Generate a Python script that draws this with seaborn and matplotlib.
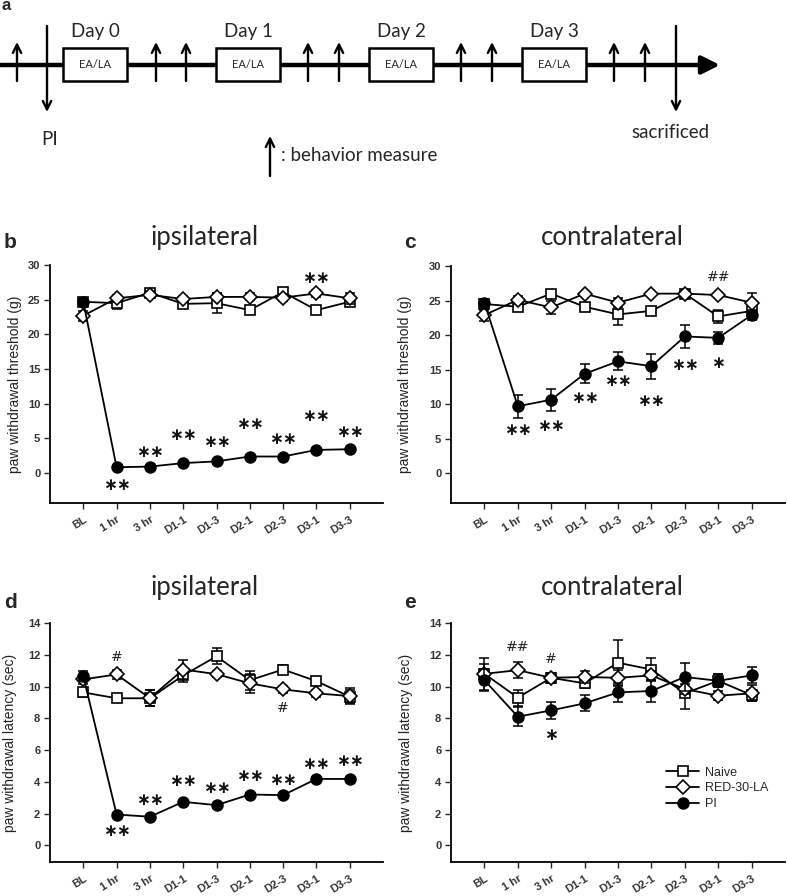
import numpy as np
import pandas as pd
import matplotlib
matplotlib.use("Agg")
import matplotlib.pyplot as plt
import seaborn as sns
from matplotlib.patches import Rectangle

sns.set_theme(style="ticks")
plt.rcParams['font.family'] = ['Liberation Sans', 'DejaVu Sans']

# ---------------- data ----------------
timepoints = ['BL', '1 hr', '3 hr', 'D1-1', 'D1-3', 'D2-1', 'D2-3', 'D3-1', 'D3-3']
groups = ['Naive', 'RED-30-LA', 'PI']

# b: ipsilateral threshold (g)
b_naive = [24.7, 24.5, 26.0, 24.4, 24.5, 23.5, 26.1, 23.5, 24.7]
b_red = [22.7, 25.2, 25.7, 25.1, 25.4, 25.4, 25.3, 25.9, 25.2]
b_pi = [24.7, 0.85, 0.95, 1.45, 1.7, 2.4, 2.4, 3.35, 3.45]
b_naive_err = [0.5, 0.8, 0.5, 0.6, 1.4, 0.6, 0.5, 0.5, 0.5]
b_red_err = [0.7, 0.5, 0.5, 0.5, 0.5, 0.5, 0.5, 0.5, 0.8]
b_pi_err = [0.5, 0.2, 0.2, 0.2, 0.4, 0.2, 0.2, 0.2, 0.2]

# c: contralateral threshold (g)
c_naive = [24.5, 24.1, 26.0, 24.1, 23.0, 23.5, 26.0, 22.7, 23.5]
c_red = [22.9, 25.1, 24.0, 26.0, 24.7, 26.0, 26.0, 25.8, 24.7]
c_pi = [24.7, 9.7, 10.65, 14.4, 16.2, 15.5, 19.8, 19.6, 22.9]
c_naive_err = [0.5, 0.5, 0.4, 0.5, 1.5, 0.4, 0.3, 0.9, 0.6]
c_red_err = [0.8, 0.6, 1.0, 0.3, 0.7, 0.3, 0.3, 0.3, 1.4]
c_pi_err = [0.5, 1.7, 1.6, 1.4, 1.3, 1.8, 1.7, 0.9, 0.7]

# d: ipsilateral latency (sec)
d_naive = [9.63, 9.26, 9.26, 10.7, 11.9, 10.4, 11.07, 10.34, 9.36]
d_red = [10.45, 10.76, 9.26, 11.07, 10.78, 10.2, 9.82, 9.57, 9.4]
d_pi = [10.65, 1.94, 1.80, 2.74, 2.53, 3.2, 3.16, 4.18, 4.18]
d_naive_err = [0.3, 0.2, 0.5, 0.4, 0.5, 0.6, 0.3, 0.2, 0.4]
d_red_err = [0.3, 0.3, 0.5, 0.6, 0.2, 0.6, 0.2, 0.2, 0.5]
d_pi_err = [0.3, 0.1, 0.1, 0.1, 0.1, 0.1, 0.15, 0.1, 0.1]

# e: contralateral latency (sec)
e_naive = [10.8, 9.3, 10.55, 10.2, 11.5, 11.07, 9.57, 10.36, 9.46]
e_red = [10.8, 11.03, 10.55, 10.6, 10.55, 10.7, 9.84, 9.42, 9.57]
e_pi = [10.4, 8.1, 8.5, 8.94, 9.63, 9.72, 10.6, 10.36, 10.7]
e_naive_err = [1.0, 0.5, 0.3, 0.3, 1.4, 0.7, 1.0, 0.4, 0.35]
e_red_err = [0.6, 0.5, 0.3, 0.4, 0.5, 0.3, 0.3, 0.3, 0.5]
e_pi_err = [0.7, 0.6, 0.55, 0.5, 0.6, 0.7, 0.9, 0.4, 0.5]

# significance annotations: (time index, y value, text)
b_annot = [(1, -1.7, '∗∗'), (2, 3.0, '∗∗'), (3, 5.5, '∗∗'), (4, 4.5, '∗∗'), (5, 7.1, '∗∗'),
           (6, 4.9, '∗∗'), (7, 8.3, '∗∗'), (8, 6.0, '∗∗'), (7, 28.1, '∗∗')]
c_annot = [(1, 6.3, '∗∗'), (2, 6.9, '∗∗'), (3, 10.9, '∗∗'), (4, 13.3, '∗∗'), (5, 10.4, '∗∗'),
           (6, 15.6, '∗∗'), (7, 15.9, '∗'), (7, 28.4, '##')]
d_annot = [(1, 0.9, '∗∗'), (2, 2.84, '∗∗'), (3, 4.07, '∗∗'), (4, 3.6, '∗∗'), (5, 4.35, '∗∗'),
           (6, 4.1, '∗∗'), (7, 5.14, '∗∗'), (8, 5.29, '∗∗'), (1, 11.87, '#'), (6, 8.63, '#')]
e_annot = [(1, 12.5, '##'), (2, 11.76, '#'), (2, 6.96, '∗')]

# schematic (panel a)
measure_x = [17, 156, 186, 308, 339, 461, 492, 614, 645]
box_left = [63, 216, 369, 522]
day_labels = ['Day 0', 'Day 1', 'Day 2', 'Day 3']

W, H = 787, 896
fig = plt.figure(figsize=(W / 100, H / 100), dpi=100)

# ---------------- panel a ----------------
ax0 = fig.add_axes([0, 1 - 180 / H, 1, 180 / H])
ax0.set_xlim(0, W)
ax0.set_ylim(180, 0)
ax0.axis('off')
tl_font = 'Lato'
ax0.annotate('', xy=(720, 65), xytext=(0, 65),
             arrowprops=dict(arrowstyle='-|>,head_length=0.9,head_width=0.45', lw=3.2, color='black',
                             shrinkA=0, shrinkB=0))
for mx in measure_x:
    ax0.annotate('', xy=(mx, 42), xytext=(mx, 81),
                 arrowprops=dict(arrowstyle='->,head_length=0.5,head_width=0.25', lw=1.7, color='black',
                                 shrinkA=0, shrinkB=0))
for px in [47, 676]:
    ax0.annotate('', xy=(px, 112), xytext=(px, 26),
                 arrowprops=dict(arrowstyle='->,head_length=0.5,head_width=0.25', lw=1.7, color='black',
                                 shrinkA=0, shrinkB=0))
for bl, dl in zip(box_left, day_labels):
    ax0.add_patch(Rectangle((bl, 48), 64, 33, facecolor='white', edgecolor='black', lw=1.8, zorder=3))
    ax0.text(bl + 32, 65, 'EA/LA', ha='center', va='center', fontsize=8, family=tl_font, zorder=4)
    ax0.text(bl + 32, 32, dl, ha='center', va='center', fontsize=13.5, family=tl_font)
ax0.text(50, 139, 'PI', ha='center', va='center', fontsize=13.5, family=tl_font)
ax0.text(670, 132, 'sacrificed', ha='center', va='center', fontsize=13.5, family=tl_font)
ax0.annotate('', xy=(270, 136), xytext=(270, 176),
             arrowprops=dict(arrowstyle='->,head_length=0.5,head_width=0.25', lw=1.7, color='black',
                             shrinkA=0, shrinkB=0))
ax0.text(281, 155, ': behavior measure', ha='left', va='center', fontsize=13.5, family=tl_font)
ax0.text(2, 6, 'a', ha='left', va='center', fontsize=12, fontweight='bold')

# ---------------- data panels ----------------
styles = {
    'Naive': dict(marker='s', markersize=6.8, markerfacecolor='white', zorder=3),
    'RED-30-LA': dict(marker='D', markersize=6.8, markerfacecolor='white', zorder=4),
    'PI': dict(marker='o', markersize=7.8, markerfacecolor='black', zorder=5),
}


def panel(rect, vals, errs, ylim, yticks, ylabel, annots, label_x, legend=False):
    ax = fig.add_axes(rect)
    idx = np.arange(len(timepoints))
    for g, v, e in zip(groups, vals, errs):
        df = pd.DataFrame({'t': idx, 'v': v})
        st = styles[g]
        ax.errorbar(idx, v, yerr=e, fmt='none', ecolor='black', elinewidth=1.1, capsize=3.5,
                    capthick=1.1, zorder=st['zorder'] - 0.5)
        sns.lineplot(data=df, x='t', y='v', ax=ax, color='black', linewidth=1.3,
                     marker=st['marker'], markersize=st['markersize'],
                     markerfacecolor=st['markerfacecolor'], markeredgecolor='black',
                     markeredgewidth=1.2, zorder=st['zorder'], label=g, errorbar=None)
    for i, y, t in annots:
        if '#' in t:
            ax.text(i, y, t, ha='center', va='center', fontsize=10, color='#222222', family='DejaVu Sans')
        else:
            ax.text(i, y, t, ha='center', va='center', fontsize=12, color='#111111',
                    family='DejaVu Sans', fontweight='bold')
    ax.set_xlim(-1, 9)
    ax.set_ylim(*ylim)
    ax.set_yticks(yticks)
    ax.set_xticks(idx)
    ax.set_xticklabels(timepoints, rotation=32, ha='right', rotation_mode='anchor',
                       fontsize=8, color='#333333', fontweight='bold')
    ax.tick_params(axis='y', labelsize=8, labelcolor='#333333', length=4, width=1, pad=3)
    ax.tick_params(axis='x', length=4, width=1, pad=4)
    for lab in ax.get_yticklabels():
        lab.set_fontweight('bold')
    sns.despine(ax=ax)
    for s in ['left', 'bottom']:
        ax.spines[s].set_linewidth(1.3)
        ax.spines[s].set_color('black')
    ax.spines['left'].set_bounds(ylim[0], ylim[1])
    ax.set_xlabel('')
    ax.set_ylabel(ylabel, fontsize=10, color='#222222')
    ax.yaxis.set_label_coords(label_x, 0.5)
    if legend:
        ax.legend(loc='upper left', bbox_to_anchor=(0.63, 0.42), frameon=False, fontsize=9,
                  handlelength=2.6, handletextpad=0.5, labelspacing=0.3, borderaxespad=0)
    else:
        lg = ax.get_legend()
        if lg is not None:
            lg.remove()
    return ax


def rect(x0, x1, ytop, ybot):
    return [x0 / W, 1 - ybot / H, (x1 - x0) / W, (ybot - ytop) / H]


thr_lab = 'paw withdrawal threshold (g)'
lat_lab = 'paw withdrawal latency (sec)'
panel(rect(50, 383, 265, 503), [b_naive, b_red, b_pi], [b_naive_err, b_red_err, b_pi_err],
      (-4.3, 30), [0, 5, 10, 15, 20, 25, 30], thr_lab, b_annot, -0.085)
panel(rect(451, 785, 266, 503), [c_naive, c_red, c_pi], [c_naive_err, c_red_err, c_pi_err],
      (-4.3, 30), [0, 5, 10, 15, 20, 25, 30], thr_lab, c_annot, -0.117)
panel(rect(50, 383, 623, 862), [d_naive, d_red, d_pi], [d_naive_err, d_red_err, d_pi_err],
      (-1.05, 14), [0, 2, 4, 6, 8, 10, 12, 14], lat_lab, d_annot, -0.1)
panel(rect(451, 785, 623, 862), [e_naive, e_red, e_pi], [e_naive_err, e_red_err, e_pi_err],
      (-1.05, 14), [0, 2, 4, 6, 8, 10, 12, 14], lat_lab, e_annot, -0.114, legend=True)

# titles and panel letters
title_font = 'Lato'
for x, y, t in [(205, 237, 'ipsilateral'), (612, 237, 'contralateral'),
                (205, 587, 'ipsilateral'), (612, 587, 'contralateral')]:
    fig.text(x / W, 1 - y / H, t, ha='center', va='center', fontsize=18.5, family=title_font)
for x, y, t in [(4, 242, 'b'), (404, 242, 'c'), (4, 603, 'd'), (404, 603, 'e')]:
    fig.text(x / W, 1 - y / H, t, ha='left', va='center', fontsize=15, fontweight='bold')

fig.savefig('out.png', dpi=100)
